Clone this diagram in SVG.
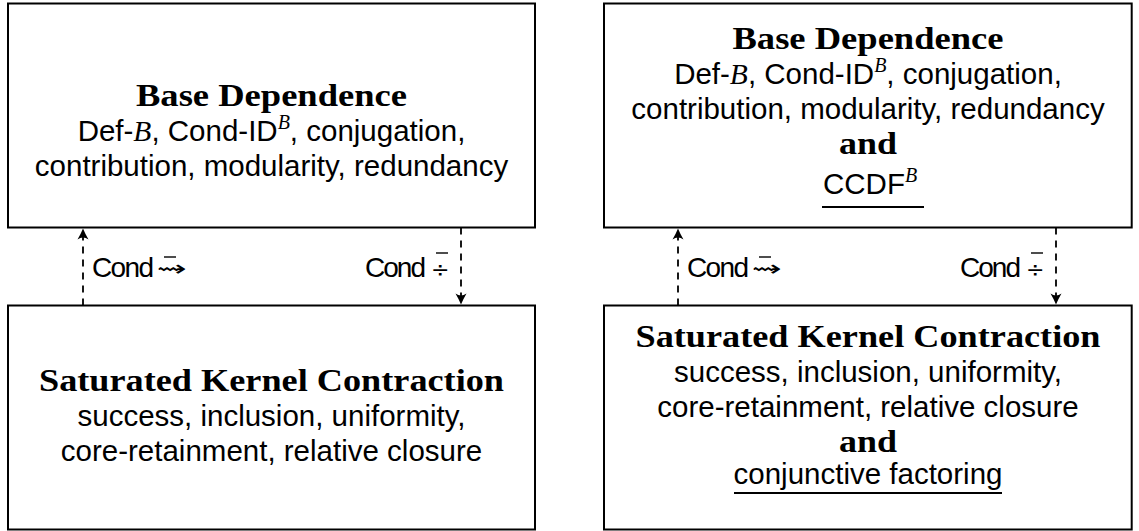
<svg xmlns="http://www.w3.org/2000/svg" width="1139" height="531" viewBox="0 0 1139 531">
<style>
.box{fill:#fff;stroke:#000;stroke-width:2}
.t{font-family:"Liberation Serif",serif;font-weight:bold;font-size:31px;text-anchor:middle;fill:#000}
.s{font-family:"Liberation Sans",Arial,sans-serif;font-size:29.5px;text-anchor:middle;fill:#000}
.m{font-family:"Liberation Serif",serif;font-style:italic}
.lbl{font-family:"Liberation Sans",Arial,sans-serif;font-size:28px;fill:#000}
.sym{font-family:"DejaVu Sans",sans-serif;font-size:22px;fill:#000}
.edge{stroke:#000;stroke-width:1.8;stroke-dasharray:7,6;fill:none}
.bar{stroke:#000;stroke-width:1.4}
.ul{stroke:#000;stroke-width:2}
</style>
<defs>
<marker id="ah" markerUnits="userSpaceOnUse" markerWidth="16" markerHeight="14" viewBox="-12 -7 14 14" refX="0" refY="0" orient="auto">
<path d="M0,0 Q-5,-2 -11,-5.5 Q-7,0 -11,5.5 Q-5,2 0,0 Z" fill="#000"/>
</marker>
</defs>

<g id="left-base">
<rect class="box" x="8" y="3.5" width="527" height="224"/>
<text class="t" x="271.5" y="106" textLength="271" lengthAdjust="spacingAndGlyphs">Base Dependence</text>
<text class="s" x="271.5" y="141">Def-<tspan class="m">B</tspan>, Cond-ID<tspan class="m" font-size="20" dy="-12">B</tspan><tspan dy="12">, conjugation,</tspan></text>
<text class="s" x="271.5" y="176">contribution, modularity, redundancy</text>
</g>

<g id="left-skc">
<rect class="box" x="8" y="305.5" width="527" height="224"/>
<text class="t" x="271.5" y="391" textLength="465" lengthAdjust="spacingAndGlyphs">Saturated Kernel Contraction</text>
<text class="s" x="271.5" y="426">success, inclusion, uniformity,</text>
<text class="s" x="271.5" y="461">core-retainment, relative closure</text>
</g>

<g id="right-base">
<rect class="box" x="604" y="3.5" width="527.7" height="224"/>
<text class="t" x="868" y="49" textLength="271" lengthAdjust="spacingAndGlyphs">Base Dependence</text>
<text class="s" x="868" y="84">Def-<tspan class="m">B</tspan>, Cond-ID<tspan class="m" font-size="20" dy="-12">B</tspan><tspan dy="12">, conjugation,</tspan></text>
<text class="s" x="868" y="119">contribution, modularity, redundancy</text>
<text class="t" x="868" y="154" textLength="58" lengthAdjust="spacingAndGlyphs">and</text>
<text class="s" x="823" y="194" style="text-anchor:start">CCDF<tspan class="m" font-size="20" dy="-12">B</tspan></text>
<line class="ul" x1="822" y1="207" x2="924" y2="207"/>
</g>

<g id="right-skc">
<rect class="box" x="604" y="305.5" width="527.7" height="224"/>
<text class="t" x="868" y="347" textLength="465" lengthAdjust="spacingAndGlyphs">Saturated Kernel Contraction</text>
<text class="s" x="868" y="382">success, inclusion, uniformity,</text>
<text class="s" x="868" y="417">core-retainment, relative closure</text>
<text class="t" x="868" y="452" textLength="58" lengthAdjust="spacingAndGlyphs">and</text>
<text class="s" x="868" y="484">conjunctive factoring</text>
<line class="ul" x1="734" y1="493" x2="1002" y2="493"/>
</g>

<g id="connectors">
<line class="edge" x1="83" y1="305.5" x2="83" y2="228.5" marker-end="url(#ah)"/>
<line class="edge" x1="461" y1="227.5" x2="461" y2="304.5" marker-end="url(#ah)"/>
<line class="edge" x1="678" y1="305.5" x2="678" y2="228.5" marker-end="url(#ah)"/>
<line class="edge" x1="1056" y1="227.5" x2="1056" y2="304.5" marker-end="url(#ah)"/>

<text class="lbl" x="92" y="277" textLength="62">Cond</text>
<text class="sym" x="157" y="276" textLength="30" lengthAdjust="spacingAndGlyphs">⇝</text>
<line class="bar" x1="164" y1="257" x2="176" y2="257"/>

<text class="lbl" x="365" y="277" textLength="61">Cond</text>
<text class="sym" x="431" y="277">÷</text>
<line class="bar" x1="436" y1="253" x2="448" y2="253"/>

<text class="lbl" x="687" y="277" textLength="62">Cond</text>
<text class="sym" x="752" y="276" textLength="30" lengthAdjust="spacingAndGlyphs">⇝</text>
<line class="bar" x1="759" y1="257" x2="771" y2="257"/>

<text class="lbl" x="960" y="277" textLength="61">Cond</text>
<text class="sym" x="1026" y="277">÷</text>
<line class="bar" x1="1031" y1="253" x2="1043" y2="253"/>
</g>
</svg>
